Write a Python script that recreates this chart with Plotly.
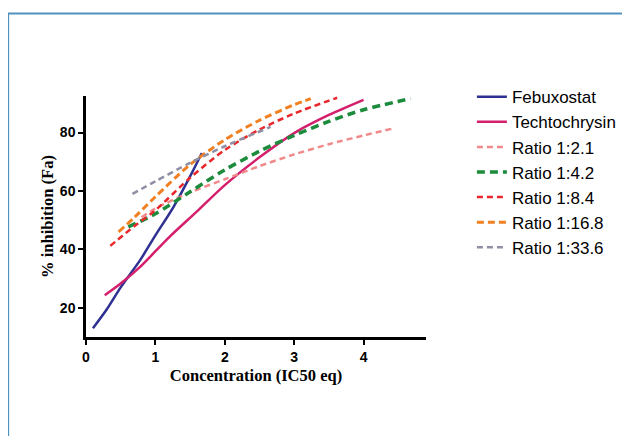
import plotly.graph_objects as go

# Dose-effect curves
febuxostat_x = [0.1, 0.3, 0.5, 0.78, 1.0, 1.26, 1.5, 1.67]
febuxostat_y = [13, 19.5, 27, 36.3, 44.8, 54.5, 65, 73]

techto_x = [0.27, 0.5, 0.78, 1.2, 1.6, 2.0, 2.5, 3.0, 3.5, 4.0]
techto_y = [24.3, 28.3, 34, 44.2, 53, 62, 71.5, 79.8, 86, 91.2]

r21_x = [0.8, 1.0, 1.5, 2.0, 2.5, 3.0, 3.5, 4.0, 4.41]
r21_y = [51, 54, 59.5, 64, 68.5, 72.5, 76, 79, 81.3]

r42_x = [0.61, 1.0, 1.5, 2.0, 2.5, 3.0, 3.5, 4.0, 4.68]
r42_y = [47.7, 52.2, 59.7, 67.2, 73.6, 79, 83.8, 87.8, 91.6]

r84_x = [0.35, 0.7, 1.0, 1.5, 2.0, 2.5, 3.0, 3.62]
r84_y = [41.2, 48, 53.4, 64.5, 74, 81, 86.5, 91.9]

r168_x = [0.47, 0.7, 1.0, 1.5, 2.0, 2.5, 3.0, 3.24]
r168_y = [46, 51, 58, 69, 77.5, 84.2, 89.5, 91.6]

r336_x = [0.67, 1.0, 1.5, 2.0, 2.66]
r336_y = [59, 63.3, 69.6, 75.3, 81.9]

series = [
    ("Febuxostat", febuxostat_x, febuxostat_y, "#2e3192", "solid", 2.5),
    ("Techtochrysin", techto_x, techto_y, "#d4206c", "solid", 2.5),
    ("Ratio 1:2.1", r21_x, r21_y, "#f08a8a", "6px,4px", 2.5),
    ("Ratio 1:4.2", r42_x, r42_y, "#1c8c3c", "8px,5px", 3.5),
    ("Ratio 1:8.4", r84_x, r84_y, "#e8262b", "6px,4px", 2.5),
    ("Ratio 1:16.8", r168_x, r168_y, "#f08022", "7px,4px", 3),
    ("Ratio 1:33.6", r336_x, r336_y, "#8e8ea4", "6px,4px", 2.5),
]

fig = go.Figure()
for name, xs, ys, color, dash, width in series:
    fig.add_trace(go.Scatter(
        x=xs, y=ys, name=name, mode="lines",
        line=dict(color=color, dash=dash, width=width, shape="spline", smoothing=0.8),
    ))

# outer blue frame of the figure panel
fig.add_shape(type="rect", xref="paper", yref="paper",
              x0=-0.229, x1=1.7, y0=-0.5, y1=1.342,
              line=dict(color="#4f93bd", width=2), layer="below")

# the page body adds an 8px offset, margins compensate for it
fig.update_layout(
    width=630, height=436,
    margin=dict(l=78, r=212, t=88, b=107, autoexpand=False),
    paper_bgcolor="white", plot_bgcolor="white",
    font=dict(family="Liberation Sans, Arial", color="black"),
    showlegend=True,
    legend=dict(x=1.135, y=1.07, xanchor="left", yanchor="top",
                font=dict(size=17, family="Liberation Sans, Arial"),
                itemwidth=30, bgcolor="rgba(0,0,0,0)"),
    xaxis=dict(
        range=[0, 4.9], tickvals=[0, 1, 2, 3, 4],
        showgrid=False, zeroline=False,
        showline=True, linecolor="black", linewidth=2.5,
        ticks="outside", ticklen=5, tickwidth=2, tickcolor="black",
        tickfont=dict(size=14, family="Liberation Sans, Arial", weight="bold"),
        title=dict(text="<b>Concentration (IC50 eq)</b>", standoff=6,
                   font=dict(size=16.5, family="Liberation Serif, Times New Roman")),
    ),
    yaxis=dict(
        range=[10, 92.5], tickvals=[20, 40, 60, 80],
        showgrid=False, zeroline=False,
        showline=True, linecolor="black", linewidth=2.5,
        ticks="outside", ticklen=5, tickwidth=2, tickcolor="black",
        tickfont=dict(size=14, family="Liberation Sans, Arial", weight="bold"),
        title=dict(text="<b>% inhibition (Fa)</b>", standoff=3,
                   font=dict(size=16.5, family="Liberation Serif, Times New Roman")),
    ),
)

fig.write_html("out.html")
